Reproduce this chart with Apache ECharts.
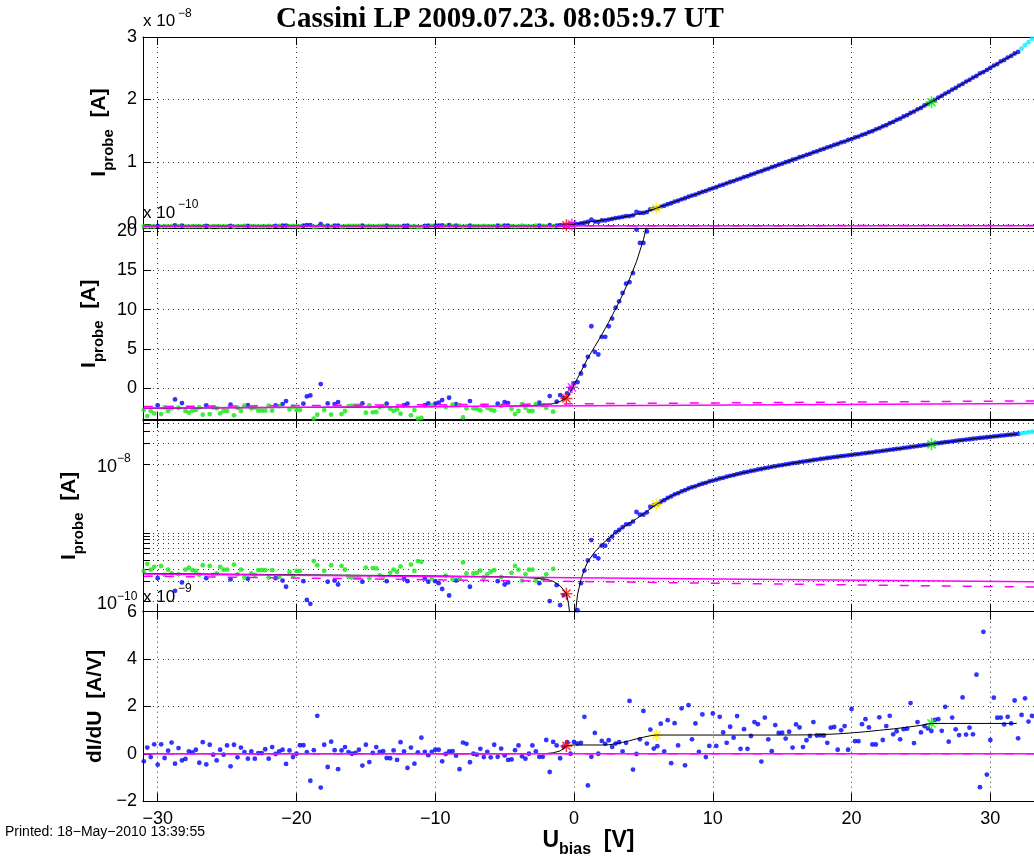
<!DOCTYPE html>
<html>
<head>
<meta charset="utf-8">
<title>Cassini LP sweep</title>
<script src="https://cdn.jsdelivr.net/npm/echarts@6/dist/echarts.min.js"></script>
<style>
  html, body { margin: 0; padding: 0; background: #ffffff; }
  #chart { width: 1034px; height: 859px; }
</style>
</head>
<body>
<div id="chart"></div>
<script>
// Langmuir probe bias sweep, Cassini LP 2009-07-23 08:05:09.7 UT

// bias voltage of each sweep step [V]
const biasV = [
  -31,-30.75,-30.5,-30.25,-30,-29.75,-29.5,-29.25,-29,-28.75,-28.5,-28.25,-28,-27.75,-27.5,-27.25,-27,-26.75,-26.5,-26.25,
  -26,-25.75,-25.5,-25.25,-25,-24.75,-24.5,-24.25,-24,-23.75,-23.5,-23.25,-23,-22.75,-22.5,-22.25,-22,-21.75,-21.5,-21.25,
  -21,-20.75,-20.5,-20.25,-20,-19.75,-19.5,-19.25,-19,-18.75,-18.5,-18.25,-18,-17.75,-17.5,-17.25,-17,-16.75,-16.5,-16.25,
  -16,-15.75,-15.5,-15.25,-15,-14.75,-14.5,-14.25,-14,-13.75,-13.5,-13.25,-13,-12.75,-12.5,-12.25,-12,-11.75,-11.5,-11.25,
  -11,-10.75,-10.5,-10.25,-10,-9.75,-9.5,-9.25,-9,-8.75,-8.5,-8.25,-8,-7.75,-7.5,-7.25,-7,-6.75,-6.5,-6.25,
  -6,-5.75,-5.5,-5.25,-5,-4.75,-4.5,-4.25,-4,-3.75,-3.5,-3.25,-3,-2.75,-2.5,-2.25,-2,-1.75,-1.5,-1.25,
  -1,-0.75,-0.5,-0.25,0,0.25,0.5,0.75,1,1.25,1.5,1.75,2,2.25,2.5,2.75,3,3.25,3.5,3.75,
  4,4.25,4.5,4.75,5,5.25,5.5,5.75,6,6.25,6.5,6.75,7,7.25,7.5,7.75,8,8.25,8.5,8.75,
  9,9.25,9.5,9.75,10,10.25,10.5,10.75,11,11.25,11.5,11.75,12,12.25,12.5,12.75,13,13.25,13.5,13.75,
  14,14.25,14.5,14.75,15,15.25,15.5,15.75,16,16.25,16.5,16.75,17,17.25,17.5,17.75,18,18.25,18.5,18.75,
  19,19.25,19.5,19.75,20,20.25,20.5,20.75,21,21.25,21.5,21.75,22,22.25,22.5,22.75,23,23.25,23.5,23.75,
  24,24.25,24.5,24.75,25,25.25,25.5,25.75,26,26.25,26.5,26.75,27,27.25,27.5,27.75,28,28.25,28.5,28.75,
  29,29.25,29.5,29.75,30,30.25,30.5,30.75,31,31.25,31.5,31.75,32,32.25,32.5,32.75,33
];

// measured probe current [1e-10 A]
const currentE10 = [
  -2.80,-3.56,-2.92,-3.22,-2.20,-3.31,-2.46,-2.92,-2.58,-1.44,-2.50,-1.91,-2.92,-3.14,-2.88,-2.80,-2.46,-3.39,-2.20,-3.31,
  -2.46,-2.58,-3.22,-2.92,-2.92,-2.12,-3.47,-2.50,-2.92,-2.25,-2.16,-2.58,-2.46,-2.88,-2.88,-2.88,-2.25,-2.88,-2.20,-2.29,
  -2.03,-1.65,-2.71,-2.37,-2.80,-2.80,-1.99,-1.06,-0.93,-3.90,-3.39,0.51,-2.80,-1.95,-3.39,-2.03,-1.78,-3.31,-2.92,-2.29,
  -2.25,-2.25,-2.25,-1.95,-3.14,-2.20,-3.09,-3.05,-2.42,-2.29,-1.99,-2.63,-2.92,-2.71,-3.26,-2.16,-1.99,-3.47,-2.80,-3.90,
  -3.81,-2.16,-1.95,-2.16,-1.99,-1.86,-1.53,-2.40,-1.23,-2.12,-2.03,-2.16,-3.73,-2.58,-1.65,-2.58,-2.63,-2.84,-2.25,-2.50,
  -2.75,-2.88,-1.99,-2.29,-1.78,-1.91,-2.63,-3.31,-2.92,-2.03,-2.50,-2.92,-2.92,-2.03,-1.86,-2.16,-2.50,-1.02,-3.00,-1.74,
  -0.89,-1.25,-0.68,-0.05,0.59,0.75,1.86,2.84,3.98,7.88,4.62,4.28,6.53,6.53,7.88,8.86,10.25,11.06,12.12,13.3,
  13.5,14.66,20.2,18.5,18.5,19.96,24.1,25.3,26.3,28.5,30.0,32.4,34.0,36.5,38.0,40.3,42.0,44.4,46.3,47.8,
  50.2,52.1,53.7,56.2,57.9,59.6,62.1,63.6,65.9,68.0,69.5,71.9,73.5,75.9,77.4,79.8,81.5,83.9,85.3,87.8,
  89.3,91.7,93.3,95.7,97.3,99.6,101.2,103.6,105.1,107.6,109.1,111.4,113.0,115.5,117.0,119.4,120.9,123.4,124.9,127.3,
  128.8,131.3,132.7,135.2,136.7,139.2,140.7,143.3,145.0,147.7,149.4,152.3,154.1,157.1,159.0,162.1,164.2,167.3,169.4,172.8,
  175.0,178.4,180.7,184.3,186.6,190.4,192.9,196.5,199.3,203.1,205.7,209.5,212.1,215.9,218.5,222.3,224.9,228.7,231.3,235.1,
  237.6,241.7,243.9,247.3,250.4,254.3,256.7,260.9,263.2,267.1,269.7,273.6,276.2,281.5,286.9,291.8,297.3
];

// point class per step: g = ion-fit points, b = other samples, c = beyond fit range
const pointClass = (
  'ggggbggggbgbggggggbg' + 'gggggbggggbgggggggbg' + 'bbggggbbbggbgbgbbggg' +
  'gggbggggggbggggbbggg' + 'gbbgbbbgbgbgggbggggg' + 'ggbgbbggggggggbggbgb' +
  'bbbbbbbbbbbbbbbbbbbb' + 'bbbbbbbbbbbbbbbbbbbb' + 'bbbbbbbbbbbbbbbbbbbb' +
  'bbbbbbbbbbbbbbbbbbbb' + 'bbbbbbbbbbbbbbbbbbbb' + 'bbbbbbbbbbbbbbbbbbbb' +
  'bbbbbbbbbbbbbcccc'
).split('');

// numerical derivative dI/dU [1e-9 A/V]
const dIdU = [
  -0.32,0.26,-0.14,0.40,-0.46,0.40,-0.18,0.13,0.47,-0.42,0.24,-0.28,-0.22,0.10,0.06,0.17,-0.38,0.49,-0.45,0.38,
  -0.04,-0.28,0.17,-0.04,0.35,-0.53,0.38,-0.15,0.26,0.07,-0.21,0.10,-0.21,0.03,0.03,0.19,-0.21,0.28,-0.01,0.10,
  0.17,-0.43,0.14,-0.14,0.00,0.36,0.36,0.07,-1.14,0.15,1.60,-1.43,0.38,-0.56,0.51,0.15,-0.65,0.14,0.28,0.07,
  0.00,0.04,0.17,-0.50,0.38,-0.35,0.04,0.28,0.08,0.11,-0.18,-0.19,0.14,-0.26,0.49,0.10,-0.60,0.26,-0.42,0.06,
  0.68,0.08,-0.06,0.08,0.17,0.17,-0.32,-0.01,0.10,0.11,-0.08,-0.65,0.47,0.42,-0.36,0.00,-0.04,0.21,-0.14,0.08,
  -0.15,0.38,-0.13,0.22,-0.07,-0.26,-0.24,0.15,0.35,-0.11,-0.21,0.00,0.35,0.10,-0.13,-0.13,0.58,-0.77,0.50,0.35,
  -0.19,0.30,0.49,0.00,0.50,0.43,0.46,1.56,-1.34,-0.13,0.88,0.00,0.54,0.42,0.57,0.29,0.43,0.49,0.10,0.46,
  2.23,-0.67,-0.01,0.61,1.81,0.43,1.02,0.22,0.32,1.27,0.10,1.42,-0.40,1.29,0.35,1.92,-0.49,2.05,0.61,1.28,
  0.08,1.66,-0.14,0.33,1.70,0.33,1.56,0.90,0.46,1.14,0.68,1.59,0.21,1.04,0.21,0.75,1.34,1.25,-0.33,1.53,
  0.61,0.11,1.21,0.88,0.89,0.64,0.93,0.26,1.24,1.11,0.28,0.57,0.75,1.34,0.77,0.78,0.77,0.46,1.10,1.13,
  0.17,0.99,1.17,0.17,1.89,0.53,0.53,1.25,1.46,1.11,0.39,0.39,1.54,0.58,1.17,1.60,0.82,0.95,0.61,1.04,
  1.06,2.14,0.45,1.34,0.90,1.17,1.07,0.96,1.43,1.46,0.97,1.98,0.51,1.53,1.03,0.79,2.38,0.81,1.10,0.82,
  3.34,-1.41,5.15,-0.88,0.58,2.37,1.52,1.53,1.24,1.56,1.28,2.25,0.65,1.64,2.34,1.36,1.60
];

// model fit of the current [V], [1e-10 A]
const fitBias = [-31,-20,-10,-5,-3,-2,-1.5,-1,-0.75,-0.55,-0.4,-0.3,-0.2,-0.1,0,0.25,0.5,0.75,1,1.5,
  2,2.5,3,3.5,4,4.5,5,5.5,5.93,6.5,7,8,9,10,12,14,16,18,20,21,22,23,24,25,25.76,27,29,31,31.9];
const fitCurrent = [-2.58,-2.47,-2.37,-2.31,-2.22,-2.12,-1.98,-1.70,-1.48,-1.31,-0.95,-0.65,-0.30,0.05,0.45,1.25,2.1,2.95,3.85,5.3,
  6.8,8.4,10.1,11.9,13.9,16.1,18.9,22.5,26.0,30.5,34.4,42.3,50.2,58.1,73.9,89.7,105.5,121.3,137.1,145.3,154.5,164.5,175.3,187.0,196.4,212.3,237.9,263.5,275.0];

// model fit of dI/dU [V], [1e-9 A/V]
const fitDBias = [-31,-5,-2,-1.5,-1,-0.8,-0.55,-0.3,0,1,2,2.5,3,3.5,4,4.5,5,5.5,5.93,10,15,17.5,19,20,21,22,23,24,25,25.76,27,31.9];
const fitDIdU = [0,0,0.01,0.04,0.12,0.2,0.33,0.36,0.37,0.37,0.37,0.38,0.42,0.48,0.55,0.63,0.7,0.76,0.79,0.79,0.79,0.80,0.84,0.88,0.93,0.99,1.05,1.12,1.2,1.28,1.28,1.28];

// linear ion-current fits [V], [1e-10 A]
const ionBias = [-31, 33.2];
const ionSolid = [-2.54, -1.95];
const ionDashed = [-2.35, -1.63];

// characteristic points
const starBias = [-0.55, -0.15, 5.93, 25.76];
const starCurrent = [-1.31, 0.1, 26.0, 195.5];
const starDIdU = [0.33, null, 0.79, 1.28];
const starColor = ['#ff0000', '#ff00ff', '#ffee00', '#00ee00'];

// axis ticks
const xTicks = [-30, -20, -10, 0, 10, 20, 30];
const yTicksTop = [0, 1, 2, 3];
const yTicksZoom = [0, 5, 10, 15, 20];
const yTicksLog = [1e-10, 2e-10, 3e-10, 4e-10, 5e-10, 6e-10, 7e-10, 8e-10, 9e-10, 1e-9, 1e-8, 2e-8, 3e-8, 4e-8];
const yLabelsLog = [1e-10, 1e-8];
const yTicksDeriv = [-2, 0, 2, 4, 6];

const FONT = '"Liberation Sans", Arial, Helvetica, sans-serif';
const SERIF = '"Liberation Serif", "Times New Roman", serif';
const STAR = 'path://M5,0L5,10M0,5L10,5M1.6,1.6L8.4,8.4M1.6,8.4L8.4,1.6';
const COL = { b: '#0000ff', g: '#11e611', c: '#00eeff' };
const dotted = { type: [1, 4], color: '#333', width: 1 };
const minus = v => String(v).replace('-', '\u2212');

const grids = [
  { left: 143, width: 892, top: 37, height: 191 },
  { left: 143, width: 892, top: 228, height: 191.5 },
  { left: 143, width: 892, top: 420, height: 191.7 },
  { left: 143, width: 892, top: 611.7, height: 191.6 }
];

const xMin = -31.058, xMax = 33.146;
const xAxes = [];
for (let i = 0; i < 4; i++) {
  xAxes.push({
    type: 'value', gridIndex: i, min: xMin, max: xMax, position: 'bottom',
    axisLine: { onZero: false, lineStyle: { color: '#000', width: 1 } },
    axisTick: { inside: true, length: 8, customValues: xTicks, lineStyle: { color: '#000' } },
    axisLabel: { show: i === 3, customValues: xTicks, formatter: minus, fontSize: 18, color: '#000', fontFamily: FONT, margin: 9 },
    splitLine: { show: true, lineStyle: dotted },
    name: i === 3 ? '{b|U}{s|bias}{b|  [V]}' : '',
    nameLocation: 'middle', nameGap: 27,
    nameTextStyle: {
      rich: {
        b: { fontSize: 23, fontWeight: 'bold', fontFamily: FONT, color: '#000', verticalAlign: 'bottom', padding: [0, 0, 6, 0] },
        s: { fontSize: 16, fontWeight: 'bold', fontFamily: FONT, color: '#000', verticalAlign: 'bottom' }
      }
    }
  });
}
for (let i = 0; i < 4; i++) {
  xAxes.push({
    type: 'value', gridIndex: i, min: xMin, max: xMax, position: 'top',
    axisLine: { onZero: false, lineStyle: { color: '#000', width: 1 } },
    axisTick: { inside: true, length: 8, customValues: xTicks, lineStyle: { color: '#000' } },
    axisLabel: { show: false }, splitLine: { show: false }
  });
}

const nameRich = {
  b: { fontSize: 21, fontWeight: 'bold', fontFamily: FONT, color: '#000', verticalAlign: 'bottom', padding: [0, 0, 6, 0] },
  s: { fontSize: 15, fontWeight: 'bold', fontFamily: FONT, color: '#000', verticalAlign: 'bottom' }
};
const probeName = '{b|I}{s|probe}{b|  [A]}';

function linearY(i, min, max, ticks, name, gap) {
  return {
    type: 'value', gridIndex: i, min, max, position: 'left',
    axisLine: { onZero: false, lineStyle: { color: '#000', width: 1 } },
    axisTick: { inside: true, length: 8, customValues: ticks, lineStyle: { color: '#000' } },
    axisLabel: { customValues: ticks, formatter: minus, fontSize: 18, color: '#000', fontFamily: FONT, margin: 6 },
    splitLine: { show: true, lineStyle: dotted },
    name, nameLocation: 'middle', nameRotate: 90, nameGap: gap,
    nameTextStyle: { rich: nameRich, fontSize: 21, fontWeight: 'bold', fontFamily: FONT, color: '#000' }
  };
}

const yAxes = [
  linearY(0, -0.056, 3, yTicksTop, probeName, 26),
  linearY(1, -4, 20.4, yTicksZoom, probeName, 36),
  {
    type: 'log', logBase: 10, gridIndex: 2, min: 7.15e-11, max: 4.41e-8, position: 'left',
    axisLine: { onZero: false, lineStyle: { color: '#000', width: 1 } },
    axisTick: { inside: true, length: 7, customValues: yTicksLog, lineStyle: { color: '#000' } },
    axisLabel: {
      customValues: yLabelsLog, align: 'left', margin: 46,
      formatter: v => {
        const e = Math.round(Math.log10(v));
        return '{b|10}{s|' + (e < 0 ? '\u2212' + (-e) : e) + '}';
      },
      rich: {
        b: { fontSize: 18, fontFamily: FONT, color: '#000', verticalAlign: 'bottom' },
        s: { fontSize: 12, fontFamily: FONT, color: '#000', verticalAlign: 'bottom', padding: [0, 0, 11, 0] }
      }
    },
    splitLine: { show: true, lineStyle: dotted },
    name: probeName, nameLocation: 'middle', nameRotate: 90, nameGap: 55,
    nameTextStyle: { rich: nameRich, fontSize: 21, fontWeight: 'bold', fontFamily: FONT, color: '#000' }
  },
  linearY(3, -2, 6, yTicksDeriv, 'dI/dU  [A/V]', 35)
];

// data helpers
function samples(cls, conv) {
  const out = [];
  for (let k = 0; k < biasV.length; k++) {
    if (pointClass[k] === cls) out.push([biasV[k], conv(currentE10[k])]);
  }
  return out;
}
const pairs = (xs, ys, conv) => xs.map((x, k) => [x, conv(ys[k])]);

const dotSeries = (i, data, color) => ({
  type: 'scatter', xAxisIndex: i, yAxisIndex: i, data, symbol: 'circle', symbolSize: 4.8,
  itemStyle: { color }, silent: true, clip: true
});
const lineSeries = (i, data, color, width, dash) => ({
  type: 'line', xAxisIndex: i, yAxisIndex: i, data, showSymbol: false, symbol: 'none', clip: true,
  lineStyle: { color, width, type: dash ? [9, 12] : 'solid' }, silent: true
});
const starSeries = (i, values) => ({
  type: 'scatter', xAxisIndex: i, yAxisIndex: i, symbol: STAR, symbolSize: 12, silent: true, clip: true,
  data: values.map((v, k) => v === null ? null : {
    value: [starBias[k], v],
    itemStyle: { color: 'none', borderColor: starColor[k], borderWidth: 1.5 }
  }).filter(d => d !== null)
});

const conv = [
  v => v / 100,              // units of 1e-8 A
  v => v,                    // units of 1e-10 A
  v => Math.abs(v) * 1e-10   // absolute current in A
];

const series = [];
for (let i = 0; i < 3; i++) {
  const c = conv[i];
  series.push(dotSeries(i, samples('b', c), COL.b));
  series.push(dotSeries(i, samples('g', c), COL.g));
  series.push(dotSeries(i, samples('c', c), COL.c));
  series.push(lineSeries(i, pairs(fitBias, fitCurrent, c), '#000', 1));
  series.push(lineSeries(i, pairs(ionBias, ionSolid, c), '#ff00ff', 1.5));
  series.push(lineSeries(i, pairs(ionBias, ionDashed, c), '#ff00ff', 1.5, true));
  series.push(starSeries(i, starCurrent.map(c)));
}
// derivative panel
const ionSlope = (ionSolid[1] - ionSolid[0]) / (ionBias[1] - ionBias[0]) / 10;
const ionSlopeD = (ionDashed[1] - ionDashed[0]) / (ionBias[1] - ionBias[0]) / 10;
series.push(dotSeries(3, biasV.map((u, k) => [u, dIdU[k]]), COL.b));
series.push(lineSeries(3, pairs(fitDBias, fitDIdU, v => v), '#000', 1));
series.push(lineSeries(3, ionBias.map(u => [u, ionSlope]), '#ff00ff', 1.5));
series.push(lineSeries(3, ionBias.map(u => [u, ionSlopeD]), '#ff00ff', 1.5, true));
series.push(starSeries(3, starDIdU));

const txt = (x, y, text, size, extra) => ({
  type: 'text', x, y, silent: true,
  style: Object.assign({ text, fill: '#000', font: size + 'px ' + FONT, textAlign: 'left', textVerticalAlign: 'middle' }, extra || {})
});

const graphic = [
  { type: 'text', x: 500, y: 20, silent: true,
    style: { text: 'Cassini LP 2009.07.23. 08:05:9.7 UT', fill: '#000', font: 'bold 29px ' + SERIF, textAlign: 'center', textVerticalAlign: 'middle' } },
  txt(143, 21, 'x 10', 17), txt(178, 14, '\u22128', 12),
  txt(143, 213.5, 'x 10', 17), txt(178, 205, '\u221210', 12),
  txt(143, 597.5, 'x 10', 17), txt(178, 589, '\u22129', 12),
  txt(5, 832, 'Printed: 18\u2212May\u22122010 13:39:55', 14)
];

const chart = echarts.init(document.getElementById('chart'), null, { renderer: 'canvas' });
chart.setOption({
  animation: false,
  backgroundColor: '#ffffff',
  grid: grids,
  xAxis: xAxes,
  yAxis: yAxes,
  series,
  graphic
});
</script>
</body>
</html>
